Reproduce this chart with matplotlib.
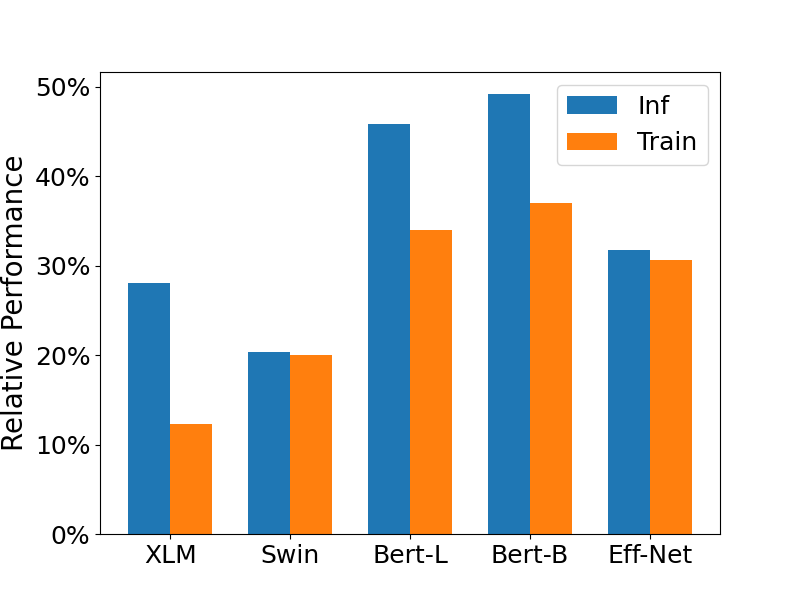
import matplotlib
matplotlib.use("Agg")
import matplotlib.pyplot as plt
import numpy as np
from matplotlib.ticker import PercentFormatter

categories = ["XLM", "Swin", "Bert-L", "Bert-B", "Eff-Net"]
inf_vals = [28.1, 20.4, 45.9, 49.2, 31.8]
train_vals = [12.3, 20.0, 34.0, 37.0, 30.6]

fig, ax = plt.subplots(figsize=(8, 6), dpi=100)
x = np.arange(len(categories))
w = 0.35
ax.bar(x - w/2, inf_vals, w, label="Inf", color="#1f77b4")
ax.bar(x + w/2, train_vals, w, label="Train", color="#ff7f0e")
ax.set_xticks(x)
ax.set_xticklabels(categories, fontsize=18)
ax.tick_params(axis="y", labelsize=18)
ax.yaxis.set_major_formatter(PercentFormatter(100, decimals=0))
ax.set_ylabel("Relative Performance", fontsize=20)
ax.legend(fontsize=18)
fig.savefig("out.png")
